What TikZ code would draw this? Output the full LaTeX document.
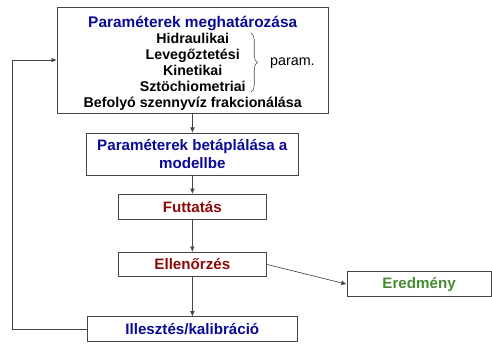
\documentclass[tikz,border=0pt]{standalone}
\usepackage{fontspec}
\setmainfont{Liberation Sans}
\usetikzlibrary{arrows.meta,decorations.pathreplacing}
\definecolor{db}{RGB}{10,10,150}
\definecolor{dr}{RGB}{140,10,10}
\definecolor{dg}{RGB}{70,140,50}
\definecolor{ln}{RGB}{70,70,70}

\begin{document}
\begin{tikzpicture}[
  box/.style={draw=ln, line width=0.6pt, minimum height=0.65cm, inner sep=0pt, align=center, font=\bfseries\fontsize{11.4}{13.5}\selectfont},
  arrow/.style={-{Latex[length=4pt,width=3.5pt]}, line width=0.5pt, color=ln},
  sub/.style={font=\bfseries\fontsize{10.7}{12.1}\selectfont}
]
\useasboundingbox (0,0) rectangle (13.02,9.13);
% Main chain (one column, wide top box)
\node[box, sub, minimum width=7.17cm, minimum height=2.80cm] (A) at (5.1,7.54)
  {\rule{0pt}{13.5pt}\textcolor{db}{\fontsize{11.6}{12}\selectfont Paraméterek meghatározása}\\
   Hidraulikai\\ Levegőztetési\\ Kinetikai\\ Sztöchiometriai\\
   Befolyó szennyvíz frakcionálása};
\node[box, text=db, minimum width=5.61cm, minimum height=1.11cm] (B) at (5.09,5.05)
  {Paraméterek betáplálása a\\ modellbe};
\node[box, text=dr, minimum width=3.94cm] (C) at (5.09,3.66) {Futtatás};
\node[box, text=dr, minimum width=3.94cm] (D) at (5.09,2.13) {Ellenőrzés};
\node[box, text=dg, minimum width=3.81cm] (E) at (11.09,1.61) {Eredmény};
\node[box, text=db, minimum width=5.58cm] (F) at (5.09,0.42) {Illesztés/kalibráció};
% Brace next to the parameter groups
\coordinate (brt) at (6.64,8.26);
\coordinate (brb) at (6.64,6.69);
\draw[ln, line width=0.4pt, decorate, decoration={brace, amplitude=5pt}] (brt) -- (brb);
\node[anchor=west, inner sep=0pt, font=\fontsize{10.8}{12}\selectfont] (par) at (7.14,7.46) {param.};
% Edges
\draw[arrow] (A) -- (B);
\draw[arrow] (B) -- (C);
\draw[arrow] (C) -- (D);
\draw[arrow] (D) -- (F);
\draw[arrow] (D.east) -- (E.west);
% Feedback loop back to the top box
\coordinate (back) at (0.32,0.42);
\draw[arrow] (F.west) -- (back) |- (A.west);
\end{tikzpicture}
\end{document}
